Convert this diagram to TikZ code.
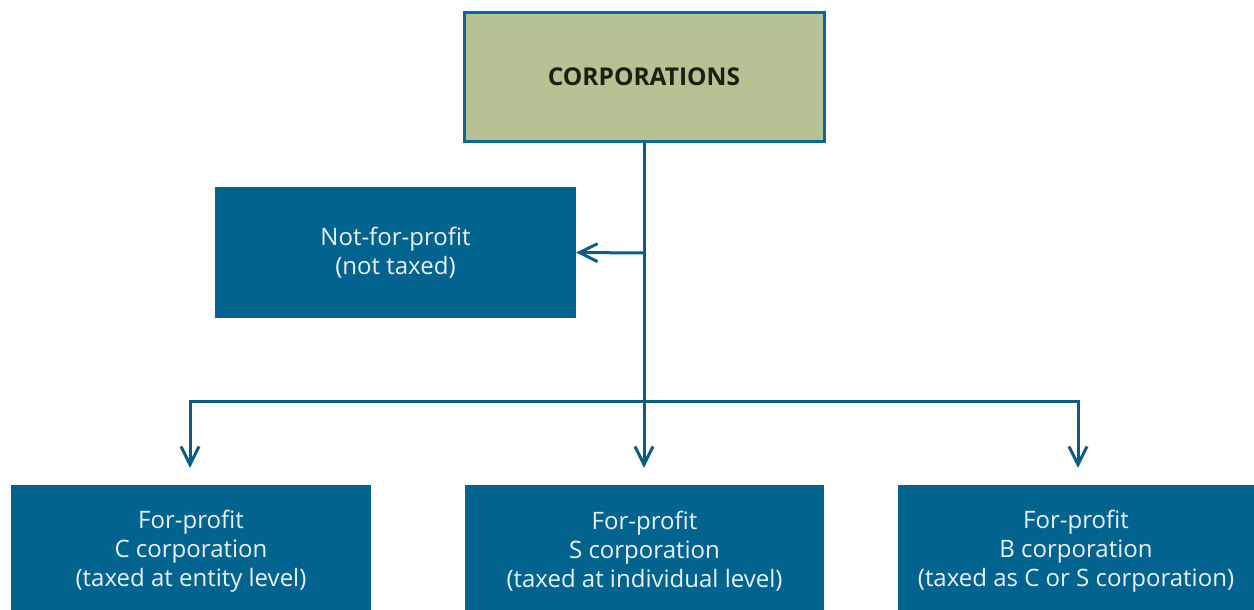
\documentclass[tikz,border=0pt]{standalone}
\usepackage{fontspec}
\setmainfont{Open Sans}
\usetikzlibrary{arrows.meta}
\definecolor{boxblue}{HTML}{02638F}
\definecolor{topfill}{HTML}{B6C294}
\definecolor{lineblue}{HTML}{0E5C85}
\definecolor{topborder}{HTML}{0B6793}
\definecolor{txtlight}{HTML}{EAF1F5}
\definecolor{txtdark}{HTML}{1A1F10}
\newcommand{\topstrut}{\rule{0pt}{24pt}}
\tikzset{
  bluebox/.style={fill=boxblue, draw=none, text=txtlight, align=center,
    inner sep=0pt, font=\fontsize{24}{29}\selectfont},
  topbox/.style={fill=topfill, draw=topborder, line width=3pt, text=txtdark,
    inner sep=0pt, font=\fontsize{24.5}{29}\selectfont\bfseries},
  conn/.style={draw=lineblue, line width=3pt},
  arr/.style={conn, -{Straight Barb[length=18pt,width=18pt,line width=3pt]}}
}
\begin{document}
\begin{tikzpicture}[x=1pt,y=-1pt]
\useasboundingbox (0,0) rectangle (1254,610);
\node[topbox, minimum width=360pt, minimum height=128pt] (corp) at (644,77) {CORPORATIONS};
\node[bluebox, minimum width=361pt, minimum height=131pt] (np) at (395.5,252.5) {Not-for-profit\\(not taxed)};
\node[bluebox, minimum width=360pt, minimum height=126pt] (cc) at (191,548) {\topstrut For-profit\\C corporation\\(taxed at entity level)};
\node[bluebox, minimum width=359pt, minimum height=126pt] (sc) at (644.5,548) {\topstrut For-profit\\S corporation\\(taxed at individual level)};
\node[bluebox, minimum width=356pt, minimum height=126pt] (bc) at (1076,548) {\topstrut For-profit\\B corporation\\(taxed as C or S corporation)};
\coordinate (j1) at (644,253);
\coordinate (j2) at (644,401);
\coordinate (l) at (190,401);
\coordinate (r) at (1078,401);
\draw[conn] (corp.south -| j1) -- (j2);
\draw[arr] (j1) -- (np.east);
\draw[arr] (j2) -- ([yshift=17pt]sc.north -| j2);
\draw[arr] (j2) -- (l) -- ([yshift=17pt]cc.north -| l);
\draw[arr] (j2) -- (r) -- ([yshift=17pt]bc.north -| r);
\end{tikzpicture}
\end{document}
